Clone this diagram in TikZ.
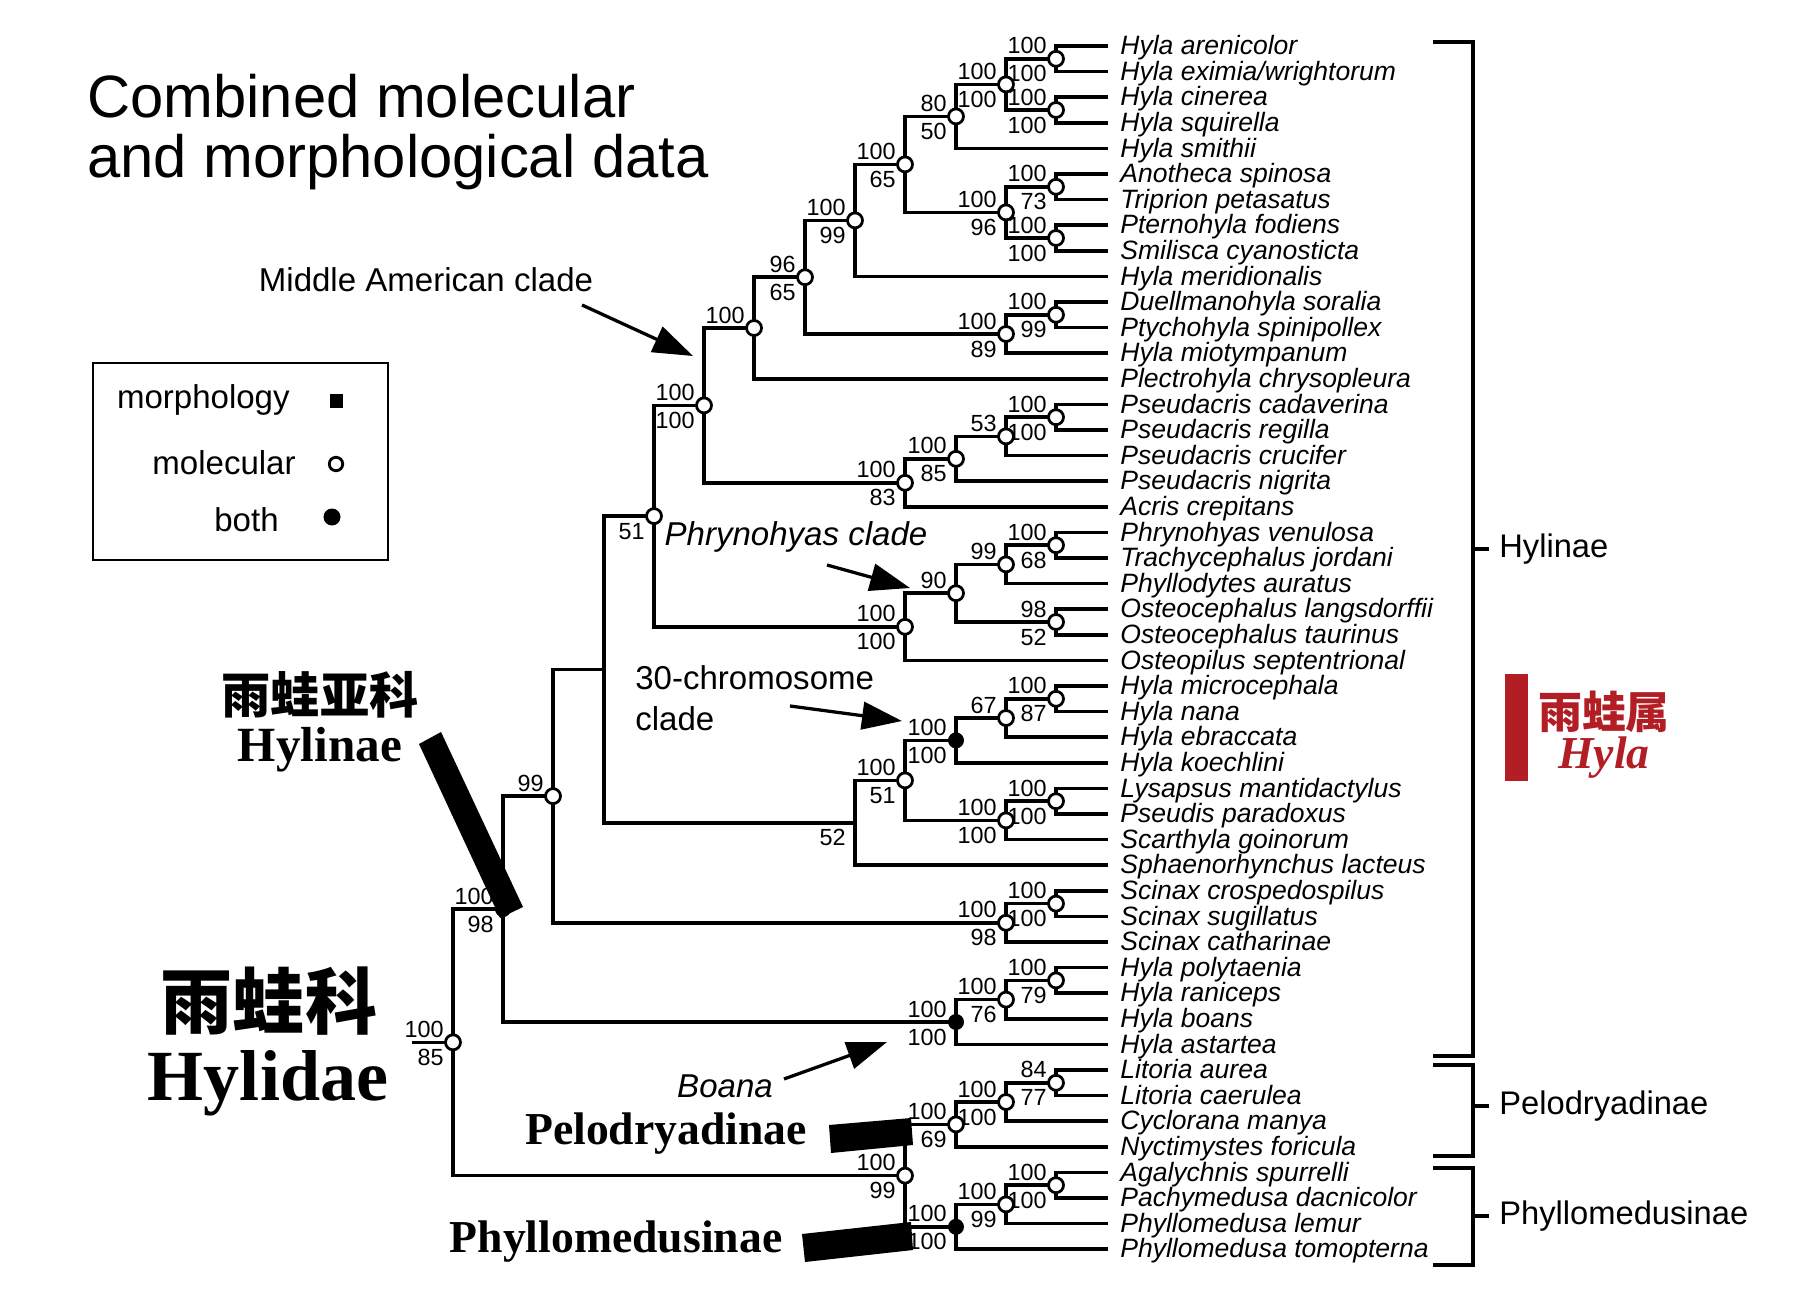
\documentclass[tikz,border=0pt]{standalone}
\usepackage{fontspec}
\setmainfont{Liberation Sans}
\newfontfamily\timesbf{Liberation Serif}
\newfontfamily\cjk{Noto Sans CJK SC}
\usetikzlibrary{calc,arrows.meta}
\pgfdeclarelayer{front}
\pgfsetlayers{main,front}
\definecolor{hylared}{RGB}{178,30,36}

% clade: name, x, upper child, lower child, upper support, lower support, mark
\newcommand{\clade}[7]{%
  \coordinate (#1m) at ($(#3)!0.5!(#4)$);
  \coordinate (#1) at (#2,0 |- #1m);
  \draw[branch] (#3) -| (#1) |- (#4);
  \begin{pgfonlayer}{front}
    \node[#7] (#1d) at (#1) {};
    \node[support] (#1u) at ($(#1)+(-9,-13)$) {#5};
    \node[support] (#1l) at ($(#1)+(-9,15)$) {#6};
  \end{pgfonlayer}%
}

\begin{document}
\begin{tikzpicture}[
    x=0.2mm, y=-0.2mm,
    branch/.style={line width=0.7mm},
    molmark/.style={circle, draw, fill=white, line width=0.55mm, inner sep=0pt, minimum size=3mm},
    bothmark/.style={circle, fill=black, inner sep=0pt, minimum size=3.2mm},
    morphmark/.style={rectangle, fill=black, inner sep=0pt, minimum size=2.6mm},
    nomark/.style={inner sep=0pt},
    support/.style={anchor=east, inner sep=0pt, font=\fontsize{13.3}{13}\selectfont},
    taxon/.style={anchor=mid west, inner sep=0pt, font=\fontsize{15.1}{16}\selectfont\itshape},
    note/.style={inner sep=0pt, font=\fontsize{18.8}{20}\selectfont},
    pointer/.style={line width=0.65mm, -{Triangle[length=8mm, width=5.5mm]}},
    bracket/.style={line width=0.65mm},
    grouplab/.style={anchor=west, inner xsep=2mm, inner ysep=0pt, font=\fontsize{18.6}{20}\selectfont},
    bigserif/.style={inner sep=0pt, font=\timesbf\bfseries},
    bigcjk/.style={inner sep=0pt, font=\cjk\bfseries},
    morphbar/.style={fill=black}
]
    \fill[white] (0,0) rectangle (1800,1298);
    \useasboundingbox (0,0) rectangle (1800,1298);

    % Title
    \node[anchor=base west, inner sep=0pt, font=\fontsize{34}{34}\selectfont] (title1) at (87,118) {Combined molecular};
    \node[anchor=base west, inner sep=0pt, font=\fontsize{34}{34}\selectfont] (title2) at (87,178) {and morphological data};

    % Legend
    \draw[line width=0.55mm] (93,363) rectangle (388,560);
    \node[note, anchor=east] (lmorph) at (290,400) {morphology};
    \node[morphmark] (lmorphd) at (336,401) {};
    \node[note, anchor=east] (lmol) at (296,463) {molecular};
    \node[molmark, minimum size=2.7mm] (lmold) at (336,464) {};
    \node[note, anchor=east] (lboth) at (279,520) {both};
    \node[bothmark, minimum size=3.4mm] (lbothd) at (332,517) {};

    % Tips
    \foreach \name [count=\i] in {Hyla arenicolor, {Hyla eximia/wrightorum}, Hyla cinerea,
        Hyla squirella, Hyla smithii, Anotheca spinosa, Triprion petasatus, Pternohyla fodiens,
        Smilisca cyanosticta, Hyla meridionalis, Duellmanohyla soralia, Ptychohyla spinipollex,
        Hyla miotympanum, Plectrohyla chrysopleura, Pseudacris cadaverina, Pseudacris regilla,
        Pseudacris crucifer, Pseudacris nigrita, Acris crepitans, Phrynohyas venulosa,
        Trachycephalus jordani, Phyllodytes auratus, Osteocephalus langsdorffii,
        Osteocephalus taurinus, Osteopilus septentrional, Hyla microcephala, Hyla nana,
        Hyla ebraccata, Hyla koechlini, Lysapsus mantidactylus, Pseudis paradoxus,
        Scarthyla goinorum, Sphaenorhynchus lacteus, Scinax crospedospilus, Scinax sugillatus,
        Scinax catharinae, Hyla polytaenia, Hyla raniceps, Hyla boans, Hyla astartea,
        Litoria aurea, Litoria caerulea, Cyclorana manya, Nyctimystes foricula,
        Agalychnis spurrelli, Pachymedusa dacnicolor, Phyllomedusa lemur, Phyllomedusa tomopterna}
    {
        \coordinate (t\i) at (1108,{46+25.6*(\i-1)});
        \node[taxon] (tx\i) at (1120,{50+25.6*(\i-1)}) {\name};
    }

    % Hylinae
    \clade{n1}{1056}{t1}{t2}{100}{100}{molmark}
    \clade{n2}{1056}{t3}{t4}{100}{100}{molmark}
    \clade{n3}{1006}{n1}{n2}{100}{100}{molmark}
    \clade{n4}{956}{n3}{t5}{80}{50}{molmark}
    \clade{n5}{1056}{t6}{t7}{100}{73}{molmark}
    \clade{n6}{1056}{t8}{t9}{100}{100}{molmark}
    \clade{n7}{1006}{n5}{n6}{100}{96}{molmark}
    \clade{n8}{905}{n4}{n7}{100}{65}{molmark}
    \clade{n9}{855}{n8}{t10}{100}{99}{molmark}
    \clade{n10}{1056}{t11}{t12}{100}{99}{molmark}
    \clade{n11}{1006}{n10}{t13}{100}{89}{molmark}
    \clade{n12}{805}{n9}{n11}{96}{65}{molmark}
    \clade{n13}{754}{n12}{t14}{100}{}{molmark}
    \clade{n14}{1056}{t15}{t16}{100}{100}{molmark}
    \clade{n15}{1006}{n14}{t17}{53}{}{molmark}
    \clade{n16}{956}{n15}{t18}{100}{85}{molmark}
    \clade{n17}{905}{n16}{t19}{100}{83}{molmark}
    \clade{n18}{704}{n13}{n17}{100}{100}{molmark}
    \clade{n19}{1056}{t20}{t21}{100}{68}{molmark}
    \clade{n20}{1006}{n19}{t22}{99}{}{molmark}
    \clade{n21}{1056}{t23}{t24}{98}{52}{molmark}
    \clade{n22}{956}{n20}{n21}{90}{}{molmark}
    \clade{n23}{905}{n22}{t25}{100}{100}{molmark}
    \clade{n24}{654}{n18}{n23}{}{51}{molmark}
    \clade{n25}{1056}{t26}{t27}{100}{87}{molmark}
    \clade{n26}{1006}{n25}{t28}{67}{}{molmark}
    \clade{n27}{956}{n26}{t29}{100}{100}{bothmark}
    \clade{n28}{1056}{t30}{t31}{100}{100}{molmark}
    \clade{n29}{1006}{n28}{t32}{100}{100}{molmark}
    \clade{n30}{905}{n27}{n29}{100}{51}{molmark}
    \clade{n31}{855}{n30}{t33}{}{52}{nomark}
    \clade{n32}{604}{n24}{n31}{}{}{nomark}
    \clade{n33}{1056}{t34}{t35}{100}{100}{molmark}
    \clade{n34}{1006}{n33}{t36}{100}{98}{molmark}
    \clade{n35}{553}{n32}{n34}{99}{}{molmark}
    \clade{n36}{1056}{t37}{t38}{100}{79}{molmark}
    \clade{n37}{1006}{n36}{t39}{100}{76}{molmark}
    \clade{n38}{956}{n37}{t40}{100}{100}{bothmark}
    \clade{n39}{503}{n35}{n38}{100}{98}{bothmark}
    % Pelodryadinae and Phyllomedusinae
    \clade{n40}{1056}{t41}{t42}{84}{77}{molmark}
    \clade{n41}{1006}{n40}{t43}{100}{100}{molmark}
    \clade{n42}{956}{n41}{t44}{100}{69}{molmark}
    \clade{n43}{1056}{t45}{t46}{100}{100}{molmark}
    \clade{n44}{1006}{n43}{t47}{100}{99}{molmark}
    \clade{n45}{956}{n44}{t48}{100}{100}{bothmark}
    \clade{n46}{905}{n42}{n45}{100}{99}{molmark}
    \clade{n47}{453}{n39}{n46}{100}{85}{molmark}
    \coordinate (root) at (412,0 |- n47);
    \draw[branch] (root) -- (n47);

    % Clade callouts
    \node[note] (mac) at (426,280) {Middle American clade};
    \coordinate (macA) at (582,305);
    \coordinate (macB) at (693,356);
    \draw[pointer] (macA) -- (macB);
    \node[note, font=\fontsize{18.8}{20}\selectfont\itshape] (phry) at (796,537) {Phrynohyas clade};
    \coordinate (phryA) at (827,565);
    \coordinate (phryB) at (910,588);
    \draw[pointer] (phryA) -- (phryB);
    \node[note, anchor=west] (chrom1) at (635,678) {30-chromosome};
    \node[note, anchor=west] (chrom2) at (635,719) {clade};
    \coordinate (chromA) at (790,706);
    \coordinate (chromB) at (902,721);
    \draw[pointer] (chromA) -- (chromB);
    \node[note, font=\fontsize{18.8}{20}\selectfont\itshape] (boana) at (725,1086) {Boana};
    \coordinate (boanaA) at (784,1079);
    \coordinate (boanaB) at (887,1042);
    \draw[pointer] (boanaA) -- (boanaB);

    % Subfamily bars
    \begin{pgfonlayer}{front}
        \fill[morphbar] (419,744) -- (441,732) -- (523,907) -- (500,918) -- cycle;
        \fill[morphbar] (829,1125) -- (911,1118) -- (913,1145) -- (831,1153) -- cycle;
        \fill[morphbar] (802,1234) -- (911,1222) -- (913,1250) -- (805,1262) -- cycle;
    \end{pgfonlayer}

    % Chinese / Latin group names
    \node[bigcjk, font=\cjk\bfseries\fontsize{28}{28}\selectfont] (cnsub) at (320,695) {雨蛙亚科};
    \node[bigserif, font=\timesbf\bfseries\fontsize{28}{28}\selectfont] (lasub) at (320,750) {Hylinae};
    \node[bigcjk, font=\cjk\bfseries\fontsize{41}{41}\selectfont] (cnfam) at (269,1001) {雨蛙科};
    \node[bigserif, font=\timesbf\bfseries\fontsize{41}{41}\selectfont] (lafam) at (268,1083) {Hylidae};
    \node[bigserif, font=\timesbf\bfseries\fontsize{26}{26}\selectfont] (pelo) at (666,1134) {Pelodryadinae};
    \node[bigserif, font=\timesbf\bfseries\fontsize{26}{26}\selectfont] (phyl) at (616,1242) {Phyllomedusinae};

    % Brackets on the right
    \coordinate (hyTop) at (1433,42);
    \coordinate (hyMid) at (1473,549);
    \coordinate (hyBot) at (1433,1056);
    \draw[bracket] (hyTop) -| (hyMid) |- (hyBot);
    \node[grouplab] (hylab) at (1489,549) {Hylinae};
    \draw[bracket] (hyMid) -- (hylab);
    \coordinate (peTop) at (1433,1065);
    \coordinate (peMid) at (1473,1106);
    \coordinate (peBot) at (1433,1156);
    \draw[bracket] (peTop) -| (peMid) |- (peBot);
    \node[grouplab] (pelab) at (1489,1106) {Pelodryadinae};
    \draw[bracket] (peMid) -- (pelab);
    \coordinate (phTop) at (1433,1168);
    \coordinate (phMid) at (1473,1216);
    \coordinate (phBot) at (1433,1265);
    \draw[bracket] (phTop) -| (phMid) |- (phBot);
    \node[grouplab] (phlab) at (1489,1216) {Phyllomedusinae};
    \draw[bracket] (phMid) -- (phlab);

    % Hyla genus
    \fill[hylared] (1505,674) rectangle (1528,781);
    \node[bigcjk, text=hylared, font=\cjk\bfseries\fontsize{25}{25}\selectfont] (cngen) at (1604,712) {雨蛙属};
    \node[bigserif, text=hylared, font=\timesbf\bfseries\itshape\fontsize{26}{26}\selectfont] (lagen) at (1604,758) {Hyla};
\end{tikzpicture}
\end{document}
